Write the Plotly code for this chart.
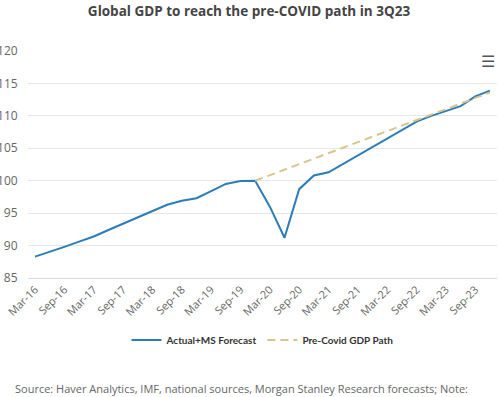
import plotly.graph_objects as go

quarters = ["Mar-16","Jun-16","Sep-16","Dec-16","Mar-17","Jun-17","Sep-17","Dec-17",
            "Mar-18","Jun-18","Sep-18","Dec-18","Mar-19","Jun-19","Sep-19","Dec-19",
            "Mar-20","Jun-20","Sep-20","Dec-20","Mar-21","Jun-21","Sep-21","Dec-21",
            "Mar-22","Jun-22","Sep-22","Dec-22","Mar-23","Jun-23","Sep-23","Dec-23"]

actual_ms = [88.3, 89.0, 89.8, 90.6, 91.4, 92.4, 93.4, 94.3,
             95.3, 96.3, 96.9, 97.3, 98.4, 99.5, 99.95, 100.0,
             96.0, 91.2, 98.7, 100.8, 101.3, 102.6, 103.9, 105.2,
             106.5, 107.8, 109.1, 110.0, 110.7, 111.5, 113.0, 113.9]

precovid = [None]*15 + [100.0, 100.85, 101.7, 102.55, 103.4, 104.25, 105.1, 105.95,
                        106.8, 107.65, 108.5, 109.35, 110.2, 111.05, 111.9, 112.75, 113.6]

tick_labels = quarters[::2]
y_ticks = [85, 90, 95, 100, 105, 110, 115, 120]

xs = list(range(len(quarters)))

fig = go.Figure()
fig.add_trace(go.Scatter(x=xs, y=actual_ms, mode="lines", name="Actual+MS Forecast",
                         line=dict(color="#2b7db5", width=2)))
fig.add_trace(go.Scatter(x=xs, y=precovid, mode="lines", name="Pre-Covid GDP Path",
                         line=dict(color="#d8c48c", width=2, dash="8px,5px")))

fig.update_layout(
    width=500, height=397,
    margin=dict(l=28, r=3, t=51, b=119),
    paper_bgcolor="white", plot_bgcolor="white",
    font=dict(family="Open Sans", color="#666666", size=11),
    title=dict(text="Global GDP to reach the pre-COVID path in 3Q23",
               x=0.498, xanchor="center", y=1 - 11/397, yanchor="middle",
               font=dict(family="Open Sans", size=13.5, color="#444444", weight="bold")),
    showlegend=True,
    legend=dict(orientation="h", x=0.5, xanchor="center", y=-0.273, yanchor="middle",
                font=dict(family="Lato", size=10, color="#333333", weight="bold"),
                itemwidth=30, tracegroupgap=0),
    annotations=[
        dict(text="Source: Haver Analytics, IMF, national sources, Morgan Stanley Research forecasts; Note:",
             xref="paper", yref="paper", x=-0.032, y=-0.485, xanchor="left", yanchor="middle",
             showarrow=False, font=dict(family="Open Sans", size=11, color="#666666")),
        dict(text="☰", xref="paper", yref="paper", x=0.981, y=0.955, xanchor="center",
             yanchor="middle", showarrow=False, font=dict(family="DejaVu Sans", size=16, color="#555555")),
    ],
)

fig.update_xaxes(range=[-0.48, 31.48], tickvals=xs[::2], ticktext=tick_labels,
                 tickangle=-45, showgrid=False, showline=True, linecolor="#d9d9d9",
                 linewidth=1, ticks="", zeroline=False, automargin=False,
                 tickfont=dict(size=11, color="#666666"))
fig.update_yaxes(range=[85, 120], tickvals=y_ticks, showgrid=True, gridcolor="#e6e6e6",
                 gridwidth=1, zeroline=False, showline=False, ticks="outside",
                 ticklen=7, tickcolor="rgba(0,0,0,0)", automargin=False,
                 tickfont=dict(size=12, color="#666666"))

fig.write_html("out.html", config={"displayModeBar": False},
               post_script="document.body.style.margin='0';")
